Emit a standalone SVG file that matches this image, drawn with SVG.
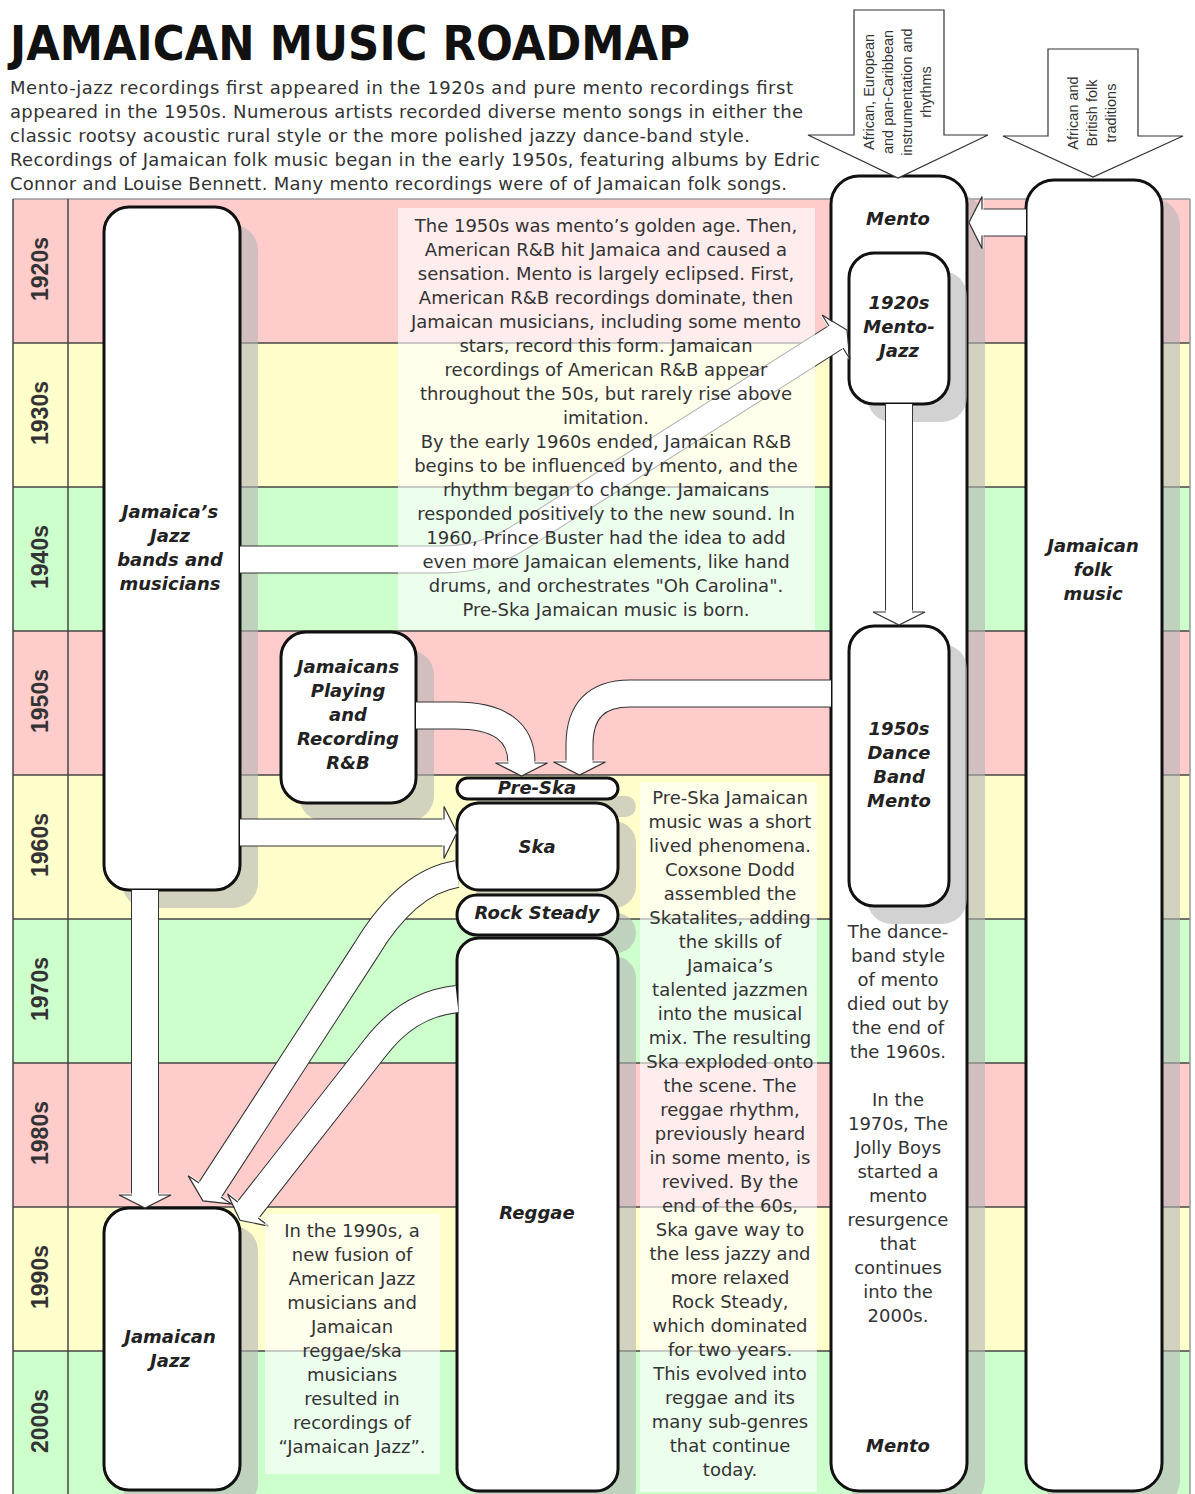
<svg xmlns="http://www.w3.org/2000/svg" width="1195" height="1494" viewBox="0 0 1195 1494">
<defs>
<style>
.row-p{fill:#ffcccc}.row-y{fill:#ffffcc}.row-g{fill:#ccffcc}
.sep{stroke:#444;stroke-width:1.5}
.dec{font-family:"Liberation Sans",Arial,sans-serif;font-weight:bold;font-size:23px;fill:#333;text-anchor:middle}
.node{fill:#fff;stroke:#111;stroke-width:3}
.shadow{fill:#b4b4b4;opacity:0.6}
.lbl{font-family:"DejaVu Sans",Verdana,sans-serif;font-weight:bold;font-style:italic;font-size:18px;fill:#222;text-anchor:middle}
.d{font-family:"DejaVu Sans",sans-serif;font-size:18px;fill:#333;text-anchor:middle}
.intro{font-family:"DejaVu Sans",sans-serif;font-size:18px;fill:#333}
.shaft-o{fill:none;stroke:#333;stroke-width:28;stroke-linejoin:round}
.shaft-i{fill:none;stroke:#fff;stroke-width:26;stroke-linejoin:round;marker-end:url(#ah)}
.inarrow{fill:#fff;stroke:#333;stroke-width:1.2}
.in{font-family:"Liberation Sans",Arial,sans-serif;font-size:14.5px;fill:#333;text-anchor:middle}
.note{fill:#fff;opacity:0.62}
</style>
<marker id="ah" markerUnits="userSpaceOnUse" orient="auto" refX="0" refY="0" markerWidth="40" markerHeight="60" style="overflow:visible">
<path d="M-1.5,-13 L-1.5,-26 L13,0 L-1.5,26 L-1.5,13 Z" fill="#fff"/>
<path d="M0,-13 L0,-26 L13,0 L0,26 L0,13" fill="none" stroke="#333" stroke-width="1.2"/>
</marker>
</defs>
<rect width="1195" height="1494" fill="#fff"/>
<text x="10" y="60" font-family="'DejaVu Sans',sans-serif" font-weight="bold" font-size="48" fill="#111" textLength="680" lengthAdjust="spacingAndGlyphs">JAMAICAN MUSIC ROADMAP</text>
<g class="intro">
<text x="10" y="94" textLength="783" lengthAdjust="spacing">Mento-jazz recordings first appeared in the 1920s and pure mento recordings first</text>
<text x="10" y="118" textLength="793" lengthAdjust="spacing">appeared in the 1950s. Numerous artists recorded diverse mento songs in either the</text>
<text x="10" y="142" textLength="740" lengthAdjust="spacing">classic rootsy acoustic rural style or the more polished jazzy dance-band style.</text>
<text x="10" y="166" textLength="810" lengthAdjust="spacing">Recordings of Jamaican folk music began in the early 1950s, featuring albums by Edric</text>
<text x="10" y="190" textLength="777" lengthAdjust="spacing">Connor and Louise Bennett. Many mento recordings were of of Jamaican folk songs.</text>
</g>
<g id="timeline">
<rect class="row-p" x="13" y="199" width="1177" height="144"/>
<rect class="row-y" x="13" y="343" width="1177" height="144"/>
<rect class="row-g" x="13" y="487" width="1177" height="144"/>
<rect class="row-p" x="13" y="631" width="1177" height="144"/>
<rect class="row-y" x="13" y="775" width="1177" height="144"/>
<rect class="row-g" x="13" y="919" width="1177" height="144"/>
<rect class="row-p" x="13" y="1063" width="1177" height="144"/>
<rect class="row-y" x="13" y="1207" width="1177" height="144"/>
<rect class="row-g" x="13" y="1351" width="1177" height="144"/>
<line class="sep" x1="13" y1="199" x2="1190" y2="199" style="stroke:#999"/>
<line class="sep" x1="13" y1="343" x2="1190" y2="343"/>
<line class="sep" x1="13" y1="487" x2="1190" y2="487"/>
<line class="sep" x1="13" y1="631" x2="1190" y2="631"/>
<line class="sep" x1="13" y1="775" x2="1190" y2="775"/>
<line class="sep" x1="13" y1="919" x2="1190" y2="919"/>
<line class="sep" x1="13" y1="1063" x2="1190" y2="1063"/>
<line class="sep" x1="13" y1="1207" x2="1190" y2="1207"/>
<line class="sep" x1="13" y1="1351" x2="1190" y2="1351"/>
<line class="sep" x1="13" y1="199" x2="13" y2="1494"/>
<line class="sep" x1="68" y1="199" x2="68" y2="1494"/>
<line class="sep" x1="1190" y1="199" x2="1190" y2="1494" style="stroke:#999"/>
<text class="dec" transform="translate(48,269) rotate(-90)">1920s</text>
<text class="dec" transform="translate(48,413) rotate(-90)">1930s</text>
<text class="dec" transform="translate(48,557) rotate(-90)">1940s</text>
<text class="dec" transform="translate(48,701) rotate(-90)">1950s</text>
<text class="dec" transform="translate(48,845) rotate(-90)">1960s</text>
<text class="dec" transform="translate(48,989) rotate(-90)">1970s</text>
<text class="dec" transform="translate(48,1133) rotate(-90)">1980s</text>
<text class="dec" transform="translate(48,1277) rotate(-90)">1990s</text>
<text class="dec" transform="translate(48,1421) rotate(-90)">2000s</text>
</g>
<g id="jazz-bands">
<rect class="shadow" x="122" y="225" width="136" height="683" rx="25"/>
<rect class="node" x="104" y="207" width="136" height="683" rx="25"/>
<text class="lbl" x="170" y="518">Jamaica’s</text>
<text class="lbl" x="170" y="542">Jazz</text>
<text class="lbl" x="170" y="566">bands and</text>
<text class="lbl" x="170" y="590">musicians</text>
</g>
<g id="jamaicans-rnb">
<rect class="shadow" x="299" y="650" width="135" height="171" rx="25"/>
<rect class="node" x="281" y="632" width="135" height="171" rx="25"/>
<text class="lbl" x="348" y="673">Jamaicans</text>
<text class="lbl" x="348" y="697">Playing</text>
<text class="lbl" x="348" y="721">and</text>
<text class="lbl" x="348" y="745">Recording</text>
<text class="lbl" x="348" y="769">R&amp;B</text>
</g>
<g id="jamaican-jazz">
<rect class="shadow" x="122" y="1226" width="136" height="282" rx="25"/>
<rect class="node" x="104" y="1208" width="136" height="282" rx="25"/>
<text class="lbl" x="170" y="1343">Jamaican</text>
<text class="lbl" x="170" y="1367">Jazz</text>
</g>
<g id="pre-ska">
<rect class="shadow" x="475" y="796" width="161" height="21" rx="10.5"/>
<rect class="node" x="457" y="778" width="161" height="21" rx="10.5"/>
<text class="lbl" x="537" y="794">Pre-Ska</text>
</g>
<g id="ska">
<rect class="shadow" x="475" y="821" width="161" height="87" rx="22"/>
<rect class="node" x="457" y="803" width="161" height="87" rx="22"/>
<text class="lbl" x="537" y="853">Ska</text>
</g>
<g id="rock-steady">
<rect class="shadow" x="475" y="913" width="161" height="40" rx="20"/>
<rect class="node" x="457" y="895" width="161" height="40" rx="20"/>
<text class="lbl" x="537" y="919">Rock Steady</text>
</g>
<g id="reggae">
<rect class="shadow" x="475" y="956" width="161" height="554" rx="22"/>
<rect class="node" x="457" y="938" width="161" height="553" rx="22"/>
<text class="lbl" x="537" y="1219">Reggae</text>
</g>
<g id="folk">
<rect class="shadow" x="1044" y="198" width="136" height="1310" rx="28"/>
<rect class="node" x="1026" y="180" width="136" height="1311" rx="28"/>
<text class="lbl" x="1093" y="552">Jamaican</text>
<text class="lbl" x="1093" y="576">folk</text>
<text class="lbl" x="1093" y="600">music</text>
</g>
<g id="mento">
<rect class="shadow" x="849" y="194" width="136" height="1314" rx="28"/>
<rect class="node" x="831" y="176" width="136" height="1315" rx="28"/>
<text class="lbl" x="898" y="225">Mento</text>
<text class="lbl" x="898" y="1452">Mento</text>
<g class="d">
<text x="898" y="938">The dance-</text>
<text x="898" y="962">band style</text>
<text x="898" y="986">of mento</text>
<text x="898" y="1010">died out by</text>
<text x="898" y="1034">the end of</text>
<text x="898" y="1058">the 1960s.</text>
<text x="898" y="1106">In the</text>
<text x="898" y="1130">1970s, The</text>
<text x="898" y="1154">Jolly Boys</text>
<text x="898" y="1178">started a</text>
<text x="898" y="1202">mento</text>
<text x="898" y="1226">resurgence</text>
<text x="898" y="1250">that</text>
<text x="898" y="1274">continues</text>
<text x="898" y="1298">into the</text>
<text x="898" y="1322">2000s.</text>
</g>
</g>
<g id="mento-jazz">
<rect class="shadow" x="867" y="271" width="100" height="151" rx="25"/>
<rect class="node" x="849" y="253" width="100" height="151" rx="25"/>
<text class="lbl" x="899" y="309">1920s</text>
<text class="lbl" x="899" y="333">Mento-</text>
<text class="lbl" x="899" y="357">Jazz</text>
</g>
<g id="dance-band-mento">
<rect class="shadow" x="867" y="644" width="100" height="280" rx="25"/>
<rect class="node" x="849" y="626" width="100" height="280" rx="25"/>
<text class="lbl" x="899" y="735">1950s</text>
<text class="lbl" x="899" y="759">Dance</text>
<text class="lbl" x="899" y="783">Band</text>
<text class="lbl" x="899" y="807">Mento</text>
</g>
<g id="connectors">
<polygon class="inarrow" points="854,10 944,10 944,135 988,135 898,178 808,135 854,135"/>
<text class="in" transform="translate(874,92) rotate(-90)">African, European</text>
<text class="in" transform="translate(893,92) rotate(-90)">and pan-Caribbean</text>
<text class="in" transform="translate(912,92) rotate(-90)">instrumentation and</text>
<text class="in" transform="translate(931,92) rotate(-90)">rhythms</text>
<polygon class="inarrow" points="1048,49 1138,49 1138,136 1183,136 1093,177 1003,136 1048,136"/>
<text class="in" transform="translate(1078,113) rotate(-90)">African and</text>
<text class="in" transform="translate(1097,113) rotate(-90)">British folk</text>
<text class="in" transform="translate(1116,113) rotate(-90)">traditions</text>
<path class="shaft-o" d="M1026,222.5 L982,222.5"/>
<path class="shaft-i" d="M1026,222.5 L982,222.5"/>
<path class="shaft-o" d="M240,559.5 L440,559.5 Q485,559.5 520,537 L836,337"/>
<path class="shaft-i" d="M240,559.5 L440,559.5 Q485,559.5 520,537 L836,337"/>
<path class="shaft-o" d="M899,404 L899,612"/>
<path class="shaft-i" d="M899,404 L899,612"/>
<path class="shaft-o" d="M416,715.5 L455,715.5 Q521.5,715.5 521.5,763"/>
<path class="shaft-i" d="M416,715.5 L455,715.5 Q521.5,715.5 521.5,763"/>
<path class="shaft-o" d="M831,693.5 L630,693.5 Q579.5,693.5 579.5,745 L579.5,762"/>
<path class="shaft-i" d="M831,693.5 L630,693.5 Q579.5,693.5 579.5,745 L579.5,762"/>
<path class="shaft-o" d="M240,832.5 L444,832.5"/>
<path class="shaft-i" d="M240,832.5 L444,832.5"/>
<path class="shaft-o" d="M145,890 L145,1195"/>
<path class="shaft-i" d="M145,890 L145,1195"/>
<path class="shaft-o" d="M457,874 C420,880 390,910 366,950 L210,1190"/>
<path class="shaft-i" d="M457,874 C420,880 390,910 366,950 L210,1190"/>
<path class="shaft-o" d="M457,999 C420,1003 395,1022 375,1048 L248,1210"/>
<path class="shaft-i" d="M457,999 C420,1003 395,1022 375,1048 L248,1210"/>
</g>
<g id="notes">
<rect class="note" x="398" y="208" width="417" height="422"/>
<g class="d">
<text x="606" y="232">The 1950s was mento’s golden age. Then,</text>
<text x="606" y="256">American R&amp;B hit Jamaica and caused a</text>
<text x="606" y="280">sensation. Mento is largely eclipsed. First,</text>
<text x="606" y="304">American R&amp;B recordings dominate, then</text>
<text x="606" y="328">Jamaican musicians, including some mento</text>
<text x="606" y="352">stars, record this form. Jamaican</text>
<text x="606" y="376">recordings of American R&amp;B appear</text>
<text x="606" y="400">throughout the 50s, but rarely rise above</text>
<text x="606" y="424">imitation.</text>
<text x="606" y="448">By the early 1960s ended, Jamaican R&amp;B</text>
<text x="606" y="472">begins to be influenced by mento, and the</text>
<text x="606" y="496">rhythm began to change. Jamaicans</text>
<text x="606" y="520">responded positively to the new sound. In</text>
<text x="606" y="544">1960, Prince Buster had the idea to add</text>
<text x="606" y="568">even more Jamaican elements, like hand</text>
<text x="606" y="592">drums, and orchestrates "Oh Carolina".</text>
<text x="606" y="616">Pre-Ska Jamaican music is born.</text>
</g>
<rect class="note" x="640" y="783" width="177" height="709"/>
<g class="d">
<text x="730" y="804">Pre-Ska Jamaican</text>
<text x="730" y="828">music was a short</text>
<text x="730" y="852">lived phenomena.</text>
<text x="730" y="876">Coxsone Dodd</text>
<text x="730" y="900">assembled the</text>
<text x="730" y="924">Skatalites, adding</text>
<text x="730" y="948">the skills of</text>
<text x="730" y="972">Jamaica’s</text>
<text x="730" y="996">talented jazzmen</text>
<text x="730" y="1020">into the musical</text>
<text x="730" y="1044">mix. The resulting</text>
<text x="730" y="1068">Ska exploded onto</text>
<text x="730" y="1092">the scene. The</text>
<text x="730" y="1116">reggae rhythm,</text>
<text x="730" y="1140">previously heard</text>
<text x="730" y="1164">in some mento, is</text>
<text x="730" y="1188">revived. By the</text>
<text x="730" y="1212">end of the 60s,</text>
<text x="730" y="1236">Ska gave way to</text>
<text x="730" y="1260">the less jazzy and</text>
<text x="730" y="1284">more relaxed</text>
<text x="730" y="1308">Rock Steady,</text>
<text x="730" y="1332">which dominated</text>
<text x="730" y="1356">for two years.</text>
<text x="730" y="1380">This evolved into</text>
<text x="730" y="1404">reggae and its</text>
<text x="730" y="1428">many sub-genres</text>
<text x="730" y="1452">that continue</text>
<text x="730" y="1476">today.</text>
</g>
<rect class="note" x="265" y="1214" width="175" height="260"/>
<g class="d">
<text x="352" y="1237">In the 1990s, a</text>
<text x="352" y="1261">new fusion of</text>
<text x="352" y="1285">American Jazz</text>
<text x="352" y="1309">musicians and</text>
<text x="352" y="1333">Jamaican</text>
<text x="352" y="1357">reggae/ska</text>
<text x="352" y="1381">musicians</text>
<text x="352" y="1405">resulted in</text>
<text x="352" y="1429">recordings of</text>
<text x="352" y="1453">“Jamaican Jazz”.</text>
</g>
</g>
</svg>
